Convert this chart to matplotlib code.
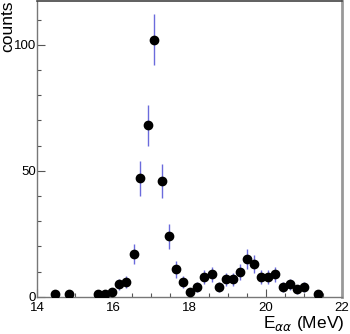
import matplotlib
matplotlib.use("Agg")
import matplotlib.pyplot as plt
from matplotlib.ticker import MultipleLocator

plt.rcParams['font.family'] = ['Liberation Sans', 'DejaVu Sans']

energy = [14.47, 14.85, 15.59, 15.78, 15.96, 16.15, 16.34, 16.53, 16.71, 16.91,
          17.08, 17.27, 17.46, 17.64, 17.83, 18.02, 18.20, 18.39, 18.58, 18.77,
          18.95, 19.14, 19.33, 19.52, 19.70, 19.88, 20.07, 20.25, 20.44, 20.63,
          20.82, 21.01, 21.37]
counts = [1, 1, 1, 1, 2, 5, 6, 17, 47, 68,
          102, 46, 24, 11, 6, 2, 4, 8, 9, 4,
          7, 7, 10, 15, 13, 8, 8, 9, 4, 5,
          3, 4, 1]
errors = [1.0, 1.0, 1.0, 1.0, 1.4, 2.2, 2.4, 4.1, 6.9, 8.2,
          10.1, 6.8, 4.9, 3.3, 2.4, 1.4, 2.0, 2.8, 3.0, 2.0,
          2.6, 2.6, 3.2, 3.9, 3.6, 2.8, 2.8, 3.0, 2.0, 2.2,
          1.7, 2.0, 1.0]

fig = plt.figure(figsize=(3.5, 3.34), dpi=100)
ax = fig.add_axes([0.106, 0.111, 0.871, 0.887])

ax.errorbar(energy, counts, yerr=errors, fmt='none', ecolor='#6b6bdc',
            elinewidth=1.0, capsize=0, zorder=2)
ax.plot(energy, counts, 'o', color='black', markersize=6, zorder=3)

ax.set_xlim(14, 22)
ax.set_ylim(0, 117.5)
ax.xaxis.set_major_locator(MultipleLocator(2))
ax.xaxis.set_minor_locator(MultipleLocator(0.5))
ax.yaxis.set_major_locator(MultipleLocator(50))
ax.yaxis.set_minor_locator(MultipleLocator(10))

ax.tick_params(axis='both', which='major', direction='in', length=6,
               width=0.8, color='#555555', labelsize=9.5, pad=1)
ax.tick_params(axis='both', which='minor', direction='in', length=3,
               width=0.8, color='#555555')
ax.tick_params(axis='x', which='major', pad=4)

for side in ['left', 'bottom']:
    ax.spines[side].set_color('#777777')
    ax.spines[side].set_linewidth(1.0)
ax.spines['top'].set_color('#444444')
ax.spines['top'].set_linewidth(1.2)
ax.spines['right'].set_color('#999999')
ax.spines['right'].set_linewidth(2.0)

fig.text(0.002, 0.998, 'counts', rotation=90, ha='left', va='top', fontsize=12.5)
fig.text(0.985, 0.002, r'E$_{\alpha\alpha}$ (MeV)', ha='right', va='bottom',
         fontsize=12.5)

fig.savefig('out.png', dpi=100)
